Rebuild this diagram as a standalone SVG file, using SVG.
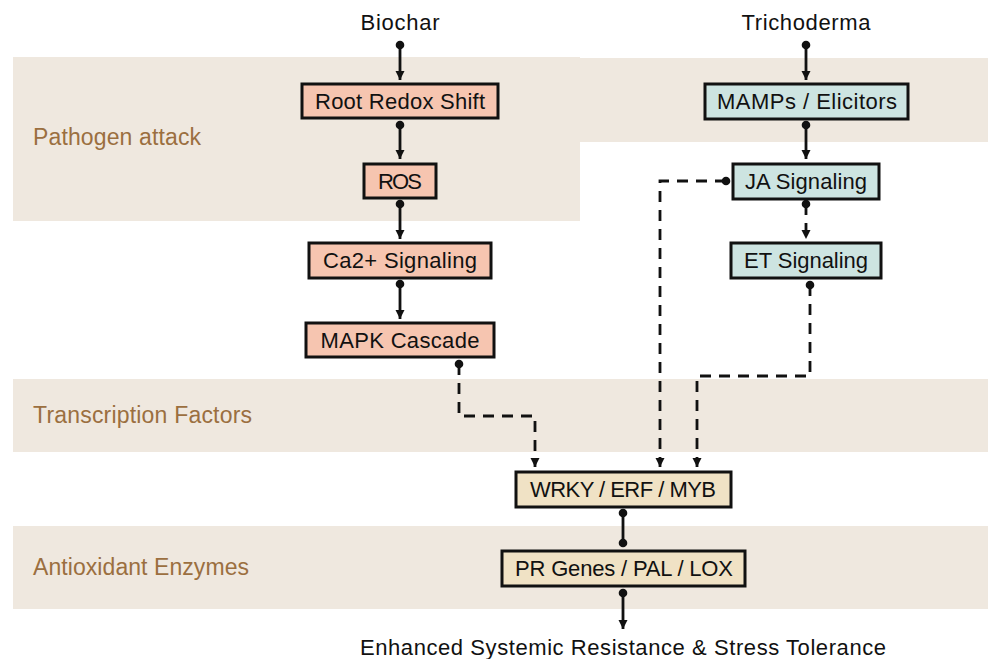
<svg xmlns="http://www.w3.org/2000/svg" width="988" height="659" viewBox="0 0 988 659">
<style>
.band{fill:#efe8df}
.bl{font-family:"Liberation Sans",Arial,sans-serif;font-size:23px;fill:#9b6f40}
.t{font-family:"Liberation Sans",Arial,sans-serif;font-size:22px;fill:#111;text-anchor:middle}
.n{stroke:#111;stroke-width:3}
.s{fill:#f6c5b0}
.g{fill:#cde4e1}
.y{fill:#f0e2c5}
.c{fill:none;stroke:#111;stroke-width:2.8}
.d{stroke-dasharray:11 8}
</style>
<defs>
<marker id="dot" markerUnits="userSpaceOnUse" markerWidth="10" markerHeight="10" refX="5" refY="5" orient="auto"><circle cx="5" cy="5" r="4.3" fill="#111"/></marker>
<marker id="arr" markerUnits="userSpaceOnUse" markerWidth="10" markerHeight="10" refX="9" refY="5" orient="auto"><path d="M0,0.5 L9,5 L0,9.5 Z" fill="#111"/></marker>
</defs>
<g id="bands">
<path class="band" d="M13,57 H580 V58 H988 V142 H580 V221 H13 Z"/>
<rect class="band" x="13" y="379" width="975" height="73"/>
<rect class="band" x="13" y="526" width="975" height="83"/>
<text class="bl" x="33" y="145" textLength="168">Pathogen attack</text>
<text class="bl" x="33" y="423" textLength="219">Transcription Factors</text>
<text class="bl" x="33" y="575" textLength="216">Antioxidant Enzymes</text>
</g>
<g id="labels">
<text class="t" x="400" y="30" textLength="79">Biochar</text>
<text class="t" x="806" y="30" textLength="129">Trichoderma</text>
<text class="t" x="623" y="655" textLength="526">Enhanced Systemic Resistance &amp; Stress Tolerance</text>
</g>
<g id="connectors">
<path class="c" d="M400,45 V80" marker-start="url(#dot)" marker-end="url(#arr)"/>
<path class="c" d="M400,125 V159" marker-start="url(#dot)" marker-end="url(#arr)"/>
<path class="c" d="M400,204 V239" marker-start="url(#dot)" marker-end="url(#arr)"/>
<path class="c" d="M400,284 V319" marker-start="url(#dot)" marker-end="url(#arr)"/>
<path class="c" d="M806,45 V80" marker-start="url(#dot)" marker-end="url(#arr)"/>
<path class="c" d="M806,125 V159" marker-start="url(#dot)" marker-end="url(#arr)"/>
<path class="c d" d="M806,204 V239" marker-start="url(#dot)" marker-end="url(#arr)"/>
<path class="c d" d="M459,364 V416 H535 V467" marker-start="url(#dot)" marker-end="url(#arr)"/>
<path class="c d" d="M726,181 H660 V467" marker-start="url(#dot)" marker-end="url(#arr)"/>
<path class="c d" d="M810,285 V376 H697 V467" marker-start="url(#dot)" marker-end="url(#arr)"/>
<path class="c" d="M623,513 V543" marker-start="url(#dot)" marker-end="url(#dot)"/>
<path class="c" d="M623,593 V629" marker-start="url(#dot)" marker-end="url(#arr)"/>
</g>
<g id="root-redox"><rect class="n s" x="302" y="84" width="196" height="34"/><text class="t" x="400" y="109" textLength="170">Root Redox Shift</text></g>
<g id="ros"><rect class="n s" x="364" y="164" width="72" height="34"/><text class="t" x="400" y="189" textLength="44">ROS</text></g>
<g id="ca"><rect class="n s" x="309" y="243" width="182" height="35"/><text class="t" x="400" y="268" textLength="154">Ca2+ Signaling</text></g>
<g id="mapk"><rect class="n s" x="306" y="323" width="188" height="34"/><text class="t" x="400" y="348" textLength="159">MAPK Cascade</text></g>
<g id="mamps"><rect class="n g" x="705" y="84" width="203" height="35"/><text class="t" x="807" y="109" textLength="180">MAMPs / Elicitors</text></g>
<g id="ja"><rect class="n g" x="733" y="164" width="146" height="35"/><text class="t" x="806" y="189" textLength="122">JA Signaling</text></g>
<g id="et"><rect class="n g" x="731" y="243" width="150" height="35"/><text class="t" x="806" y="268" textLength="124">ET Signaling</text></g>
<g id="tf"><rect class="n y" x="516" y="472" width="215" height="35"/><text class="t" x="623" y="497" textLength="186">WRKY / ERF / MYB</text></g>
<g id="pr"><rect class="n y" x="502" y="551" width="243" height="35"/><text class="t" x="624" y="576" textLength="218">PR Genes / PAL / LOX</text></g>
</svg>
